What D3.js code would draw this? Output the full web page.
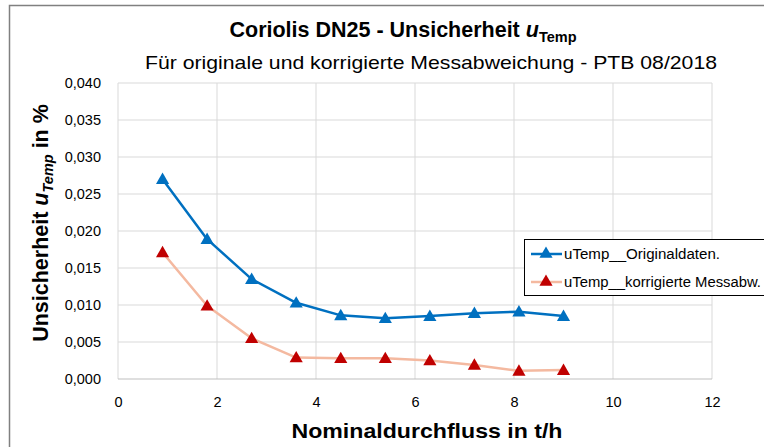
<!DOCTYPE html>
<html><head><meta charset="utf-8">
<script src="https://cdn.jsdelivr.net/npm/d3@7"></script>
<style>body{margin:0;background:#fff}svg{display:block}text{font-family:"Liberation Sans",Arial,sans-serif}</style>
</head><body>
<svg id="c" width="764" height="447"></svg>
<script>
const flow = [0.9, 1.8, 2.7, 3.6, 4.5, 5.4, 6.3, 7.2, 8.1, 9.0];
const uOriginal = [0.0270, 0.0189, 0.0135, 0.0103, 0.0086, 0.0082, 0.0085, 0.0089, 0.0091, 0.0085];
const uKorrigiert = [0.0171, 0.0099, 0.0055, 0.0029, 0.0028, 0.0028, 0.0025, 0.0019, 0.0011, 0.0012];
const seriesNames = ["uTemp__Originaldaten.", "uTemp__korrigierte Messabw."];
const xTicks = [0, 2, 4, 6, 8, 10, 12];
const yTicks = [0, 0.005, 0.010, 0.015, 0.020, 0.025, 0.030, 0.035, 0.040];

const svg = d3.select("#c");
const L = 118, R = 712, T = 83, B = 379;
const x = d3.scaleLinear().domain([0, 12]).range([L, R]);
const y = d3.scaleLinear().domain([0, 0.040]).range([B, T]);

// outer chart border
svg.append("path").attr("d", "M9.5,447 V5.5 H764").attr("fill", "none").attr("stroke", "#808080").attr("stroke-width", 1.5);

// gridlines
const grid = svg.append("g");
grid.selectAll(".gx").data(xTicks.slice(1)).join("line")
  .attr("x1", d => x(d)).attr("x2", d => x(d)).attr("y1", T).attr("y2", B)
  .attr("stroke", "#D9D9D9").attr("stroke-width", 1);
grid.selectAll(".gy").data(yTicks.slice(1)).join("line")
  .attr("x1", L).attr("x2", R).attr("y1", d => y(d)).attr("y2", d => y(d))
  .attr("stroke", "#D9D9D9").attr("stroke-width", 1);
grid.append("line").attr("x1", L).attr("x2", L).attr("y1", T).attr("y2", B).attr("stroke", "#D9D9D9");
grid.append("line").attr("x1", L).attr("x2", R).attr("y1", B).attr("y2", B).attr("stroke", "#BFBFBF").attr("stroke-width", 1);

// axes (labels only)
const fmt = d => d3.format(".3f")(d).replace(".", ",");
const ya = svg.append("g").attr("transform", `translate(${L},0)`)
  .call(d3.axisLeft(y).tickValues(yTicks).tickFormat(fmt).tickSize(0).tickPadding(17));
ya.select(".domain").remove();
ya.selectAll("text").attr("font-size", 14.5).attr("fill", "#000").attr("font-family", "Liberation Sans, Arial, sans-serif");
const xa = svg.append("g").attr("transform", `translate(0,${B})`)
  .call(d3.axisBottom(x).tickValues(xTicks).tickFormat(d3.format("d")).tickSize(0).tickPadding(18));
xa.select(".domain").remove();
xa.selectAll("text").attr("font-size", 14.5).attr("fill", "#000").attr("font-family", "Liberation Sans, Arial, sans-serif");

// series
const tri = d3.symbol().type(d3.symbolTriangle).size(75);
const series = [
  {vals: uOriginal, line: "#0070C0", mark: "#0070C0"},
  {vals: uKorrigiert, line: "#F4B9A0", mark: "#C00000"}
];
const lineGen = d3.line().x(d => x(d[0])).y(d => y(d[1]));
series.forEach(s => {
  const pts = flow.map((f, i) => [f, s.vals[i]]);
  svg.append("path").datum(pts).attr("d", lineGen).attr("fill", "none")
    .attr("stroke", s.line).attr("stroke-width", 2.5).attr("stroke-linejoin", "round");
  svg.append("g").selectAll("path").data(pts).join("path")
    .attr("d", tri).attr("transform", d => `translate(${x(d[0])},${y(d[1]) + 1})`)
    .attr("fill", s.mark);
});

// legend
const lg = svg.append("g");
lg.append("rect").attr("x", 524.5).attr("y", 239.5).attr("width", 260).attr("height", 56)
  .attr("fill", "#fff").attr("stroke", "#000").attr("stroke-width", 1);
series.forEach((s, i) => {
  const yy = 254 + i * 28;
  lg.append("line").attr("x1", 531).attr("x2", 562).attr("y1", yy).attr("y2", yy)
    .attr("stroke", s.line).attr("stroke-width", 2.5);
  lg.append("path").attr("d", tri).attr("transform", `translate(546,${yy})`).attr("fill", s.mark);
  lg.append("text").attr("x", 564).attr("y", yy + 5).attr("font-size", 14)
    .attr("textLength", i === 0 ? 156 : 197).attr("lengthAdjust", "spacingAndGlyphs")
    .text(seriesNames[i]);
});

// titles
const t1 = svg.append("text").attr("x", 403).attr("y", 37).attr("text-anchor", "middle")
  .attr("font-size", 21.5).attr("font-weight", "bold");
t1.append("tspan").text("Coriolis DN25 - Unsicherheit ");
t1.append("tspan").attr("font-style", "italic").text("u");
t1.append("tspan").attr("font-size", 14.5).attr("dy", 5).text("Temp");

svg.append("text").attr("x", 431).attr("y", 69).attr("text-anchor", "middle")
  .attr("font-size", 18.5).attr("textLength", 572).attr("lengthAdjust", "spacingAndGlyphs")
  .text("Für originale und korrigierte Messabweichung - PTB 08/2018");

svg.append("text").attr("x", 427).attr("y", 438).attr("text-anchor", "middle")
  .attr("font-size", 21).attr("font-weight", "bold")
  .attr("textLength", 271).attr("lengthAdjust", "spacingAndGlyphs")
  .text("Nominaldurchfluss in t/h");

const yt = svg.append("text").attr("transform", "translate(48,223) rotate(-90)").attr("text-anchor", "middle")
  .attr("font-size", 21.5).attr("font-weight", "bold");
yt.append("tspan").text("Unsicherheit ");
yt.append("tspan").attr("font-style", "italic").text("u");
yt.append("tspan").attr("font-size", 14.5).attr("font-style", "italic").attr("dy", 5).text("Temp");
yt.append("tspan").attr("dy", -5).text(" in %");
</script>
</body></html>
